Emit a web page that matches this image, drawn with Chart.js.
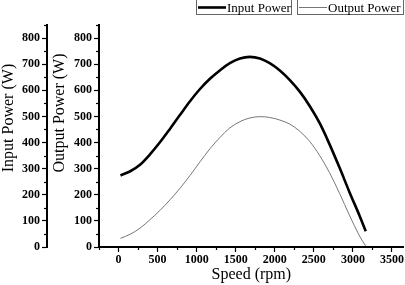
<!DOCTYPE html>
<html>
<head>
<meta charset="utf-8">
<script src="https://cdn.jsdelivr.net/npm/chart.js@4/dist/chart.umd.min.js"></script>
<style>
  html, body { margin: 0; padding: 0; background: #fff; }
</style>
</head>
<body>
<canvas id="chart" width="405" height="285"></canvas>
<script>
// values
const speed = [25, 150, 275, 400, 530, 660, 790, 915, 1040, 1170, 1300, 1425, 1555, 1680, 1810, 1935, 2065, 2190, 2320, 2445, 2575, 2700, 2830, 2955, 3085, 3165];
const inputPower = [274, 290, 315, 354, 401, 453, 507, 558, 604, 644, 677, 704, 722, 728, 722, 704, 676, 640, 595, 541, 474, 394, 303, 211, 120, 60];
const outputPower = [33, 49, 72, 104, 140, 181, 226, 274, 325, 376, 420, 456, 480, 494, 499, 496, 486, 471, 443, 405, 350, 285, 205, 122, 42, 3];

const seriesNames = ['Input Power', 'Output Power'];
const axisTitles = ['Input Power (W)', 'Output Power (W)', 'Speed (rpm)'];
const yTickLabels = [0, 100, 200, 300, 400, 500, 600, 700, 800];
const xTickLabels = [0, 500, 1000, 1500, 2000, 2500, 3000, 3500];

const serif = '"Liberation Serif", "Times New Roman", serif';

function points(ys) {
  return speed.map((s, i) => ({x: s, y: ys[i]}));
}

// short minor ticks, the library draws the long labelled ones
const minorTicks = {
  id: 'minorTicks',
  afterDraw(chart) {
    const c = chart.ctx;
    c.save();
    c.strokeStyle = '#000';
    c.lineWidth = 1.2;
    for (const id of ['yIn', 'yOut', 'x']) {
      const sc = chart.scales[id];
      const minor = id === 'x' ? 250 : 50;
      const major = id === 'x' ? xTickLabels : yTickLabels;
      for (const t of sc.ticks) {
        if (t.value % minor !== 0 || major.includes(t.value)) continue;
        const p = sc.getPixelForValue(t.value);
        c.beginPath();
        if (id === 'x') {
          c.moveTo(Math.round(p) + 0.5, sc.top);
          c.lineTo(Math.round(p) + 0.5, sc.top + 3);
        } else {
          c.moveTo(sc.right, Math.round(p) + 0.5);
          c.lineTo(sc.right - 3, Math.round(p) + 0.5);
        }
        c.stroke();
      }
    }
    c.restore();
  }
};

// rotated y titles, sitting a bit above the middle like the original
const yTitles = {
  id: 'yTitles',
  afterDraw(chart) {
    const c = chart.ctx;
    c.save();
    c.fillStyle = '#000';
    c.font = '16px ' + serif;
    c.textAlign = 'center';
    c.textBaseline = 'middle';
    const spots = [[chart.scales.yIn.left + 9, 118, axisTitles[0]], [chart.scales.yOut.left + 13, 113, axisTitles[1]]];
    for (const [x, y, txt] of spots) {
      c.save();
      c.translate(x, y);
      c.rotate(-Math.PI / 2);
      c.fillText(txt, 0, 0);
      c.restore();
    }
    c.restore();
  }
};

// boxed legend at the top right
const boxLegend = {
  id: 'boxLegend',
  afterDraw(chart) {
    const c = chart.ctx;
    const boxes = [[196, 291], [297, 403]];
    c.save();
    c.font = '13px ' + serif;
    c.textBaseline = 'alphabetic';
    chart.data.datasets.forEach((ds, i) => {
      const [l, r] = boxes[i];
      c.strokeStyle = '#666';
      c.lineWidth = 1;
      c.strokeRect(l + 0.5, -1, r - l, 15.5);
      c.strokeStyle = ds.borderColor;
      c.lineWidth = ds.borderWidth;
      c.beginPath();
      c.moveTo(l + 2, 7.5);
      c.lineTo(l + 30, 7.5);
      c.stroke();
      c.fillStyle = '#000';
      c.fillText(ds.label, l + 31, 11.5);
    });
    c.restore();
  }
};

function yAxis(weight, width) {
  return {
    type: 'linear',
    position: 'left',
    weight: weight,
    min: 0,
    max: 850,
    afterFit(scale) { scale.width = width; },
    border: {color: '#000', width: 2},
    grid: {
      drawOnChartArea: false,
      tickLength: 5,
      tickWidth: 1.2,
      tickColor: (ctx) => yTickLabels.includes(ctx.tick.value) ? '#000' : 'rgba(0,0,0,0)'
    },
    ticks: {
      stepSize: 50,
      autoSkip: false,
      padding: 2,
      color: '#000',
      font: {family: serif, size: 12, weight: 'bold'},
      callback: (v) => yTickLabels.includes(v) ? String(v) : ''
    },
    title: {display: false}
  };
}

new Chart(document.getElementById('chart'), {
  type: 'line',
  data: {
    datasets: [
      {
        label: seriesNames[0],
        data: points(inputPower),
        yAxisID: 'yIn',
        borderColor: '#000',
        borderWidth: 2.6,
        pointRadius: 0,
        tension: 0.35,
        fill: false
      },
      {
        label: seriesNames[1],
        data: points(outputPower),
        yAxisID: 'yOut',
        borderColor: '#777',
        borderWidth: 1,
        pointRadius: 0,
        tension: 0.35,
        fill: false
      }
    ]
  },
  options: {
    responsive: false,
    animation: false,
    devicePixelRatio: 1,
    layout: {padding: {top: 25, right: 1, left: 0, bottom: 0}},
    plugins: {legend: {display: false}, tooltip: {enabled: false}},
    scales: {
      x: {
        type: 'linear',
        position: 'bottom',
        min: -250,
        max: 3650,
        afterFit(scale) { scale.height = 38; },
        border: {color: '#000', width: 2},
        grid: {
          drawOnChartArea: false,
          tickLength: 5,
          tickWidth: 1.2,
          tickColor: (ctx) => xTickLabels.includes(ctx.tick.value) ? '#000' : 'rgba(0,0,0,0)'
        },
        ticks: {
          stepSize: 250,
          includeBounds: false,
          autoSkip: false,
          maxRotation: 0,
          padding: 1,
          color: '#000',
          font: {family: serif, size: 12, weight: 'bold'},
          callback: (v) => xTickLabels.includes(v) ? String(v) : ''
        },
        title: {
          display: true,
          text: axisTitles[2],
          color: '#000',
          font: {family: serif, size: 16},
          padding: {top: 0, bottom: 1}
        }
      },
      yIn: yAxis(2, 47),
      yOut: yAxis(1, 52)
    }
  },
  plugins: [minorTicks, yTitles, boxLegend]
});
</script>
</body>
</html>
